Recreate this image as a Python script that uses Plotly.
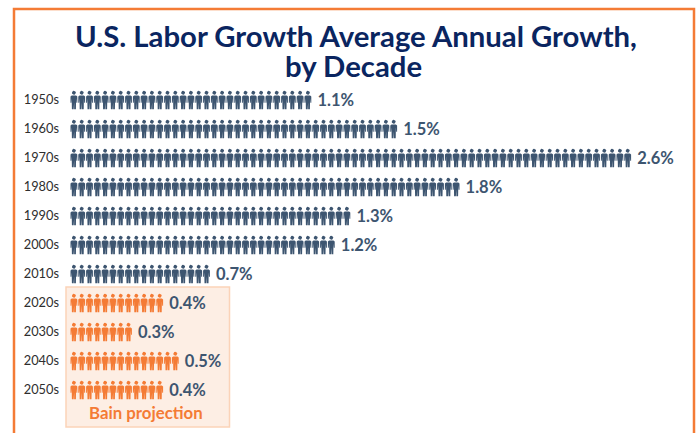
import math
import plotly.graph_objects as go

decades = ["1950s", "1960s", "1970s", "1980s", "1990s", "2000s", "2010s",
           "2020s", "2030s", "2040s", "2050s"]
growth_labels = ["1.1%", "1.5%", "2.6%", "1.8%", "1.3%", "1.2%", "0.7%",
                 "0.4%", "0.3%", "0.5%", "0.4%"]
people_counts = [31, 42, 72, 50, 36, 34, 18, 12, 8, 14, 12]
projected = [False] * 7 + [True] * 4

NAVY = "#3d5570"
ORANGE = "#f47b35"
TITLE_BLUE = "#0a2560"
PITCH = 7.8   # horizontal pixels per person
ROW = 29.0    # vertical pixels per decade
X0, Y0 = 70.0, 100.0
W, H = 697, 433
LEFT = 66

# Silhouette outline in pixels around the figure's centre
BODY = [(-3.4, -3.6), (-2.2, -4.6), (2.2, -4.6), (3.4, -3.6), (3.4, 2.8), (2.5, 2.8),
        (2.2, -1.5), (2.0, 9.2), (0.25, 9.2), (0.25, 2.4), (-0.25, 2.4), (-0.25, 9.2),
        (-2.0, 9.2), (-2.2, -1.5), (-2.5, 2.8), (-3.4, 2.8)]
HEAD = [(2.0 * math.cos(a * math.pi / 6), -7.3 + 2.0 * math.sin(a * math.pi / 6))
        for a in range(12)]


def people_outline(rows):
    xs, ys = [], []
    for row in rows:
        for person in range(people_counts[row]):
            for outline in (BODY, HEAD):
                xs += [person + 0.5 + px / PITCH for px, _ in outline]
                xs.append(person + 0.5 + outline[0][0] / PITCH)
                ys += [row + py / ROW for _, py in outline]
                ys.append(row + outline[0][1] / ROW)
                xs.append(None)
                ys.append(None)
    return xs, ys


def px_x(px):
    return (px - LEFT) / (W - LEFT)


def px_y(px):
    return 1 - px / H


fig = go.Figure()
for is_projected, colour in ((False, NAVY), (True, ORANGE)):
    rows = [r for r, flag in enumerate(projected) if flag == is_projected]
    xs, ys = people_outline(rows)
    fig.add_trace(go.Scatter(x=xs, y=ys, mode="lines", fill="toself", fillcolor=colour,
                             line=dict(width=0, color=colour), hoverinfo="skip",
                             showlegend=False))

fig.add_trace(go.Scatter(
    x=[c + 0.72 for c in people_counts], y=[r + 0.05 for r in range(len(decades))],
    mode="text", text=growth_labels, textposition="middle right",
    textfont=dict(family="Lato", size=16.5, color=NAVY, weight="bold"),
    hoverinfo="skip", showlegend=False))

title_font = dict(family="Lato", size=29.3, color=TITLE_BLUE, weight="bold")

fig.update_layout(
    width=W, height=H, autosize=False,
    margin=dict(l=LEFT, r=0, t=0, b=0),
    paper_bgcolor="white", plot_bgcolor="rgba(0,0,0,0)",
    xaxis=dict(range=[(LEFT - X0) / PITCH, (W - X0) / PITCH], visible=False, fixedrange=True),
    yaxis=dict(range=[(H - Y0) / ROW, -Y0 / ROW], tickvals=list(range(len(decades))),
               ticktext=decades, showgrid=False, zeroline=False, showline=False,
               ticks="", ticklabelstandoff=6, fixedrange=True,
               tickfont=dict(family="Lato", size=12.8, color="#2e2e2e")),
    shapes=[
        # Shaded panel behind the projected decades
        dict(type="rect", xref="paper", yref="paper", layer="below",
             x0=0, x1=px_x(229.5), y0=px_y(427), y1=px_y(287),
             fillcolor="#fdeee4", line=dict(color="#fbd3b8", width=1.5)),
        # Open-bottomed frame around the chart
        dict(type="path", xref="paper", yref="paper", layer="below",
             path="M {l} 0 L {l} {t} L {r} {t} L {r} 0".format(
                 l=px_x(14), r=px_x(694), t=px_y(9)),
             line=dict(color=ORANGE, width=2.5)),
    ],
    annotations=[
        dict(text="U.S. Labor Growth Average Annual Growth,", xref="paper", yref="paper",
             x=px_x(355.5), y=px_y(36), showarrow=False,
             xanchor="center", yanchor="middle", font=title_font),
        dict(text="by Decade", xref="paper", yref="paper",
             x=px_x(353), y=px_y(66), showarrow=False,
             xanchor="center", yanchor="middle", font=title_font),
        dict(text="Bain projection", xref="paper", yref="paper",
             x=px_x(146), y=px_y(412), showarrow=False,
             xanchor="center", yanchor="middle",
             font=dict(family="Lato", size=16.8, color=ORANGE, weight="bold")),
    ],
)

fig.write_html("out.html")
